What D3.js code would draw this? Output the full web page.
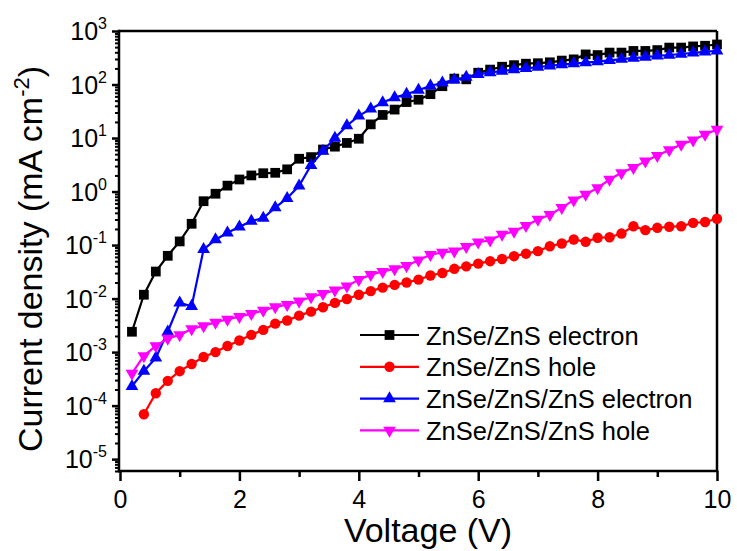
<!DOCTYPE html>
<html>
  <head>
    <meta charset="utf-8">
    <script src="https://cdn.jsdelivr.net/npm/d3@7/dist/d3.min.js"></script>
    <style type="text/css">
    body { margin: 0; background: #fff; }
    text { font-family: "Liberation Sans", Arial, sans-serif; fill: #000; }
    .axis path, .axis line { stroke: #000; }
    .axis path { display: none; }
    line.frame { stroke: #000; stroke-width: 2.5; }
    path.series { fill: none; stroke-width: 2.2; }
    text.tick-label { font-size: 25px; }
    text.title { font-size: 34px; }
    text.legend { font-size: 25.5px; }
    </style>
  </head>
  <body>
    <script type="text/javascript">

      var width = 737;
      var height = 551;

      // data (current density, mA cm^-2)
      var volts = [0.2, 0.4, 0.6, 0.8, 1.0, 1.2, 1.4, 1.6, 1.8, 2.0,
                   2.2, 2.4, 2.6, 2.8, 3.0, 3.2, 3.4, 3.6, 3.8, 4.0,
                   4.2, 4.4, 4.6, 4.8, 5.0, 5.2, 5.4, 5.6, 5.8, 6.0,
                   6.2, 6.4, 6.6, 6.8, 7.0, 7.2, 7.4, 7.6, 7.8, 8.0,
                   8.2, 8.4, 8.6, 8.8, 9.0, 9.2, 9.4, 9.6, 9.8, 10.0];
      var voltsHole = volts.slice(1);

      var znsElectron = [0.0024, 0.0118, 0.032, 0.063, 0.117, 0.25, 0.66, 0.91, 1.29, 1.68,
                         2.0, 2.2, 2.24, 2.6, 4.1, 4.4, 6.1, 6.9, 8.1, 9.7,
                         18, 27, 34, 47, 52, 66, 93, 129, 125, 166,
                         190, 215, 230, 245, 250, 260, 280, 295, 365, 355,
                         395, 395, 424, 424, 440, 490, 490, 515, 530, 560];
      var znsHole = [6.9e-5, 1.7e-4, 2.9e-4, 4.4e-4, 6.0e-4, 8.1e-4, 1.0e-3, 1.3e-3, 1.65e-3,
                     2.1e-3, 2.6e-3, 3.4e-3, 3.9e-3, 4.8e-3, 5.7e-3, 6.9e-3, 8.3e-3, 9.8e-3, 0.0118,
                     0.0138, 0.016, 0.018, 0.020, 0.0226, 0.027, 0.030, 0.036, 0.040, 0.045,
                     0.050, 0.055, 0.062, 0.069, 0.077, 0.095, 0.107, 0.127, 0.115, 0.137,
                     0.14, 0.164, 0.225, 0.19, 0.21, 0.22, 0.225, 0.26, 0.27, 0.31];
      var znszElectron = [2.3e-4, 4.4e-4, 7.8e-4, 2.4e-3, 8.3e-3, 7.2e-3, 0.083, 0.126, 0.17, 0.22,
                          0.28, 0.32, 0.5, 0.75, 1.28, 3.1, 5.7, 10, 17, 26,
                          35, 46, 57, 66, 79, 94, 108, 122, 138, 155,
                          168, 178, 190, 200, 212, 224, 236, 246, 256, 268,
                          282, 298, 312, 326, 342, 356, 372, 390, 408, 428];
      var znszHole = [4.0e-4, 8.5e-4, 1.3e-3, 1.8e-3, 2.1e-3, 2.7e-3, 3.1e-3, 3.6e-3, 4.1e-3, 4.6e-3,
                      5.2e-3, 6.0e-3, 7.0e-3, 7.7e-3, 8.9e-3, 0.0107, 0.0123, 0.0143, 0.017, 0.0226,
                      0.028, 0.032, 0.036, 0.041, 0.052, 0.066, 0.073, 0.077, 0.093, 0.113,
                      0.123, 0.158, 0.18, 0.23, 0.30, 0.37, 0.50, 0.69, 0.88, 1.17,
                      1.68, 2.24, 2.8, 3.7, 4.7, 6.0, 7.6, 9.1, 11.7, 14.5];

      var seriesNames = ["ZnSe/ZnS electron", "ZnSe/ZnS hole",
                         "ZnSe/ZnS/ZnS electron", "ZnSe/ZnS/ZnS hole"];
      var xTicks = [0, 2, 4, 6, 8, 10];
      var yTickExps = [3, 2, 1, 0, -1, -2, -3, -4, -5];

      var series = [
        { name: seriesNames[0], x: volts, y: znsElectron, color: "#000000", shape: d3.symbolSquare, size: 95, rot: 0 },
        { name: seriesNames[1], x: voltsHole, y: znsHole, color: "#ff0000", shape: d3.symbolCircle, size: 85, rot: 0 },
        { name: seriesNames[2], x: volts, y: znszElectron, color: "#0000ff", shape: d3.symbolTriangle, size: 70, rot: 0 },
        { name: seriesNames[3], x: volts, y: znszHole, color: "#ff00ff", shape: d3.symbolTriangle, size: 70, rot: 180 }
      ];

      var l = 120, r = 717, t = 31, b = 471;

      var svg = d3.select("body").append("svg")
        .attr("width", width)
        .attr("height", height);

      var x = d3.scaleLinear().domain([0, 10]).range([l, r]);
      var y = d3.scaleLog().domain([6e-6, 1000]).range([b, t]);

      /* minor ticks */
      var xMinor = [1, 3, 5, 7, 9];
      var yMinor = [];
      for (var e = -6; e < 3; e++) {
        for (var m = 2; m <= 9; m++) {
          var v = m * Math.pow(10, e);
          if (v >= 6e-6 && v < 1000) yMinor.push(v);
        }
      }

      svg.append("g")
        .attr("class", "axis")
        .attr("transform", "translate(0," + b + ")")
        .call(d3.axisBottom(x).tickValues(xMinor).tickSize(6).tickFormat(""))
        .selectAll("line").attr("stroke-width", 2.5);

      svg.append("g")
        .attr("class", "axis")
        .attr("transform", "translate(0," + b + ")")
        .call(d3.axisBottom(x).tickValues(xTicks).tickSize(10).tickPadding(9).tickFormat(d3.format("d")))
        .call(function(g) {
          g.selectAll("line").attr("stroke-width", 2.5);
          g.selectAll("text").attr("class", "tick-label").attr("font-size", null).attr("font-family", null);
        });

      svg.append("g")
        .attr("class", "axis")
        .attr("transform", "translate(" + (l - 1) + ",0)")
        .call(d3.axisLeft(y).tickValues(yMinor).tickSize(4).tickFormat(""))
        .selectAll("line").attr("stroke-width", 2);

      var yAxis = svg.append("g")
        .attr("class", "axis")
        .attr("transform", "translate(" + (l - 1) + ",0)")
        .call(d3.axisLeft(y).tickValues(yTickExps.map(function(d) { return Math.pow(10, d); }))
          .tickSize(7).tickFormat(""));
      yAxis.selectAll("line").attr("stroke-width", 2.5);

      /* y tick labels with superscripts */
      var ylab = svg.selectAll("text.ylab")
        .data(yTickExps)
        .enter()
        .append("text")
        .attr("class", "tick-label ylab")
        .attr("text-anchor", "end")
        .attr("x", 107)
        .attr("y", function(d) { return y(Math.pow(10, d)) + 9; });
      ylab.append("tspan").text("10");
      ylab.append("tspan")
        .attr("dy", -11)
        .attr("font-size", 16)
        .text(function(d) { return d; });

      /* frame */
      svg.append("line").attr("class", "frame")
        .attr("x1", l - 1).attr("y1", t).attr("x2", r).attr("y2", t);
      svg.append("line").attr("class", "frame")
        .attr("x1", r).attr("y1", t).attr("x2", r).attr("y2", b);
      svg.append("line").attr("class", "frame")
        .attr("x1", l - 1).attr("y1", t - 1.25).attr("x2", l - 1).attr("y2", b + 1.25);
      svg.append("line").attr("class", "frame")
        .attr("x1", l - 2.25).attr("y1", b).attr("x2", r + 1.25).attr("y2", b);

      /* series */
      var line = d3.line()
        .x(function(d) { return x(d[0]); })
        .y(function(d) { return y(d[1]); });

      series.forEach(function(s) {
        var pts = s.x.map(function(v, i) { return [v, s.y[i]]; });
        svg.append("path")
          .attr("class", "series")
          .attr("stroke", s.color)
          .attr("d", line(pts));
        svg.selectAll(null)
          .data(pts)
          .enter()
          .append("path")
          .attr("fill", s.color)
          .attr("d", d3.symbol().type(s.shape).size(s.size))
          .attr("transform", function(d) {
            return "translate(" + x(d[0]) + "," + y(d[1]) + ") rotate(" + s.rot + ")";
          });
      });

      /* legend */
      var leg = svg.selectAll("g.legend")
        .data(series)
        .enter()
        .append("g")
        .attr("class", "legend")
        .attr("transform", function(d, i) { return "translate(360," + (335 + i * 31.8) + ")"; });
      leg.append("line")
        .attr("x1", 0).attr("x2", 59).attr("y1", 0).attr("y2", 0)
        .attr("stroke-width", 2.2)
        .attr("stroke", function(d) { return d.color; });
      leg.append("path")
        .attr("fill", function(d) { return d.color; })
        .attr("d", function(d) { return d3.symbol().type(d.shape).size(d.size)(); })
        .attr("transform", function(d) { return "translate(29.5,0) rotate(" + d.rot + ")"; });
      leg.append("text")
        .attr("class", "legend")
        .attr("x", 66)
        .attr("y", 9.5)
        .text(function(d) { return d.name; });

      /* axis titles */
      svg.append("text")
        .attr("class", "title")
        .attr("text-anchor", "middle")
        .attr("x", 428)
        .attr("y", 542)
        .text("Voltage (V)");

      var yt = svg.append("text")
        .attr("class", "title")
        .attr("text-anchor", "middle")
        .attr("transform", "translate(42,259) rotate(-90)");
      yt.append("tspan").text("Current density (mA cm");
      yt.append("tspan").attr("dy", -13).attr("font-size", 22).text("-2");
      yt.append("tspan").attr("dy", 13).text(")");

    </script>
  </body>
</html>
